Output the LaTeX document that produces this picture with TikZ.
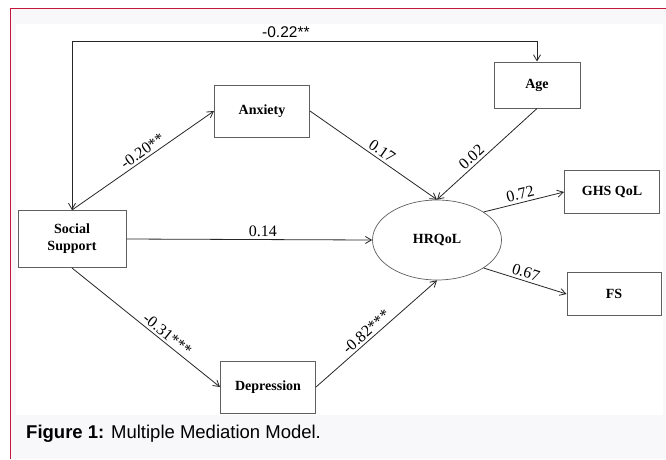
\documentclass[tikz,border=0pt]{standalone}
\usepackage{fontspec}
\setmainfont{Liberation Serif}
\newfontfamily\capfont{Liberation Sans}
\usetikzlibrary{arrows.meta,shapes.geometric}
\definecolor{framered}{RGB}{196,22,58}
\definecolor{pagegray}{RGB}{248,247,250}
\definecolor{boxline}{RGB}{95,95,95}

\begin{document}
\begin{tikzpicture}[x=1pt, y=-1pt, node distance=190pt, >={Straight Barb[length=6pt,width=7pt]},
        every node/.style={font=\fontsize{16}{18}\selectfont},
        varbox/.style={draw=boxline, line width=1pt, fill=white, align=center, font=\bfseries\fontsize{14}{17}\selectfont, minimum width=95pt, minimum height=52pt},
        coef/.style={sloped, above, inner sep=2.5pt},
        link/.style={->, line width=0.8pt, draw=black!85}]
    \useasboundingbox (0,0) rectangle (666,459);
    % page and frame
    \fill[pagegray] (10,8) rectangle (666,459);
    \fill[white] (16,24) rectangle (663,415);
    \draw[framered, line width=1pt] (10,459) -- (10,8) -- (666,8);

    \node[varbox, minimum width=108pt, minimum height=57pt] (ss) at (72,239) {Social\\Support};
    \node[varbox, right of=ss, yshift=128pt] (anx) {Anxiety};
    \node[varbox, right of=ss, xshift=6pt, yshift=-148pt] (dep) {Depression};
    \node[draw=boxline, line width=0.7pt, fill=white, ellipse, inner sep=0pt, minimum width=129pt, minimum height=80pt, font=\bfseries\fontsize{14}{17}\selectfont, right of=anx, xshift=-15pt, yshift=-129pt] (hrqol) {HRQoL};
    \node[varbox, minimum width=86pt, minimum height=46pt, right of=anx, xshift=85pt, yshift=26pt] (age) {Age};
    \node[varbox, minimum height=43pt, right of=hrqol, xshift=-15pt, yshift=48pt] (ghs) {GHS QoL};
    \node[varbox, minimum width=94pt, minimum height=43pt, right of=hrqol, xshift=-13pt, yshift=-54pt] (fs) {FS};

    \draw[link, <->] (ss.north) |- node[coef, pos=0.73, font=\capfont\fontsize{15.5}{17}\selectfont] {-0.22**} (age.north |- 0,41) -- (age.north);
    \draw[link] (ss.north) -- node[coef, pos=0.53] {-0.20**} (anx.west);
    \draw[link] (ss.east) -- node[coef, pos=0.555] {0.14} (hrqol.west);
    \draw[link] (ss.south) -- node[coef, pos=0.61] {-0.31***} (dep.west);
    \draw[link] (anx.east) -- node[coef, pos=0.53] {0.17} (hrqol.north);
    \draw[link] (age.south) -- node[coef, pos=0.6] {0.02} (hrqol.north);
    \draw[link] (dep.east) -- node[coef, pos=0.46] {-0.82***} (hrqol.south);
    \draw[link] (hrqol.31) -- node[coef, pos=0.48] {0.72} (ghs.west);
    \draw[link] (hrqol.-31) -- node[coef, pos=0.48] {0.67} (fs.west);

    \node[anchor=base west, inner sep=0pt, font=\capfont\fontsize{18.5}{20}\selectfont] (caption) at (26,438) {\textbf{Figure 1:} Multiple Mediation Model.};
\end{tikzpicture}
\end{document}
